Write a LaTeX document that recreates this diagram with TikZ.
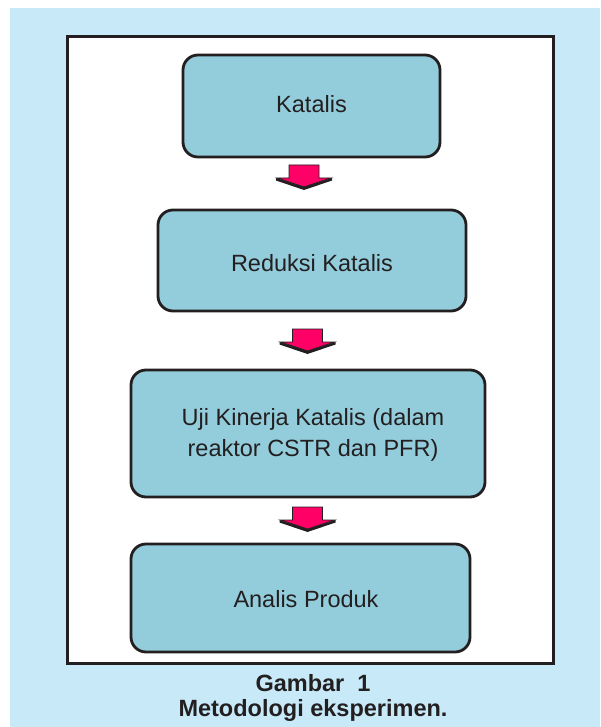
\documentclass[tikz,border=0pt]{standalone}
\usepackage{fontspec}
\setmainfont{Liberation Sans}
\usetikzlibrary{calc}
\definecolor{bgblue}{HTML}{C7E9F8}
\definecolor{boxfill}{HTML}{93CDDC}
\definecolor{ink}{HTML}{231F20}
\definecolor{arrowpink}{HTML}{FF0066}
\tikzset{
  stepbox/.style={draw=ink, line width=2.8pt, fill=boxfill, rounded corners=15pt,
    text=ink, align=center, inner sep=0pt,
    font=\fontsize{23.5}{30}\selectfont},
  captiontext/.style={text=ink, align=center, inner sep=0pt,
    font=\bfseries\fontsize{23.5}{25}\selectfont},
  arrowbody/.style={fill=arrowpink, draw=ink, line width=0.8pt, line join=miter},
  arrowshadow/.style={fill=ink},
}
\newcommand\pinkarrow[1]{%
  \begin{scope}[shift={(#1)}]
    \fill[arrowshadow] (-28,15.5) -- (0,25) -- (28,15.5) -- (28,13) -- (0,22) -- (-28,13) -- cycle;
    \path[arrowbody] (-15,0) -- (15,0) -- (15,13) -- (27,13) -- (0,22) -- (-27,13) -- (-15,13) -- cycle;
  \end{scope}}
\begin{document}
\begin{tikzpicture}[x=1pt,y=-1pt]
  \useasboundingbox (0,0) rectangle (600,727);
  \fill[bgblue] (10,8) rectangle (600,727);
  \draw[ink, line width=3pt, fill=white] (67.5,36.5) rectangle (553.5,663);

  \node[stepbox, minimum width=257pt, minimum height=102pt] (k) at (311.5,106) {};
  \node[text=ink, font=\fontsize{23.5}{30}\selectfont] (kt) at (311.5,104) {Katalis};

  \node[stepbox, minimum width=308pt, minimum height=101pt] (r) at (312,260.5) {};
  \node[text=ink, font=\fontsize{23.5}{30}\selectfont] (rt) at (312,263) {Reduksi Katalis};

  \node[stepbox, minimum width=354pt, minimum height=127pt] (u) at (308,433.5) {};
  \node[text=ink, align=center, font=\fontsize{23.5}{31}\selectfont] (ut) at (313,435) {Uji Kinerja Katalis (dalam\\reaktor CSTR dan PFR)};

  \node[stepbox, minimum width=339pt, minimum height=108pt] (a) at (300.5,598) {};
  \node[text=ink, font=\fontsize{23.5}{30}\selectfont] (at) at (306,599) {Analis Produk};

  \coordinate (a1) at (304,165);
  \coordinate (a2) at (307.5,329);
  \coordinate (a3) at (307.5,507);
  \pinkarrow{a1}
  \pinkarrow{a2}
  \pinkarrow{a3}

  \node[captiontext] (cap) at (313,698) {Gambar\ \ 1\\Metodologi eksperimen.};
\end{tikzpicture}
\end{document}
